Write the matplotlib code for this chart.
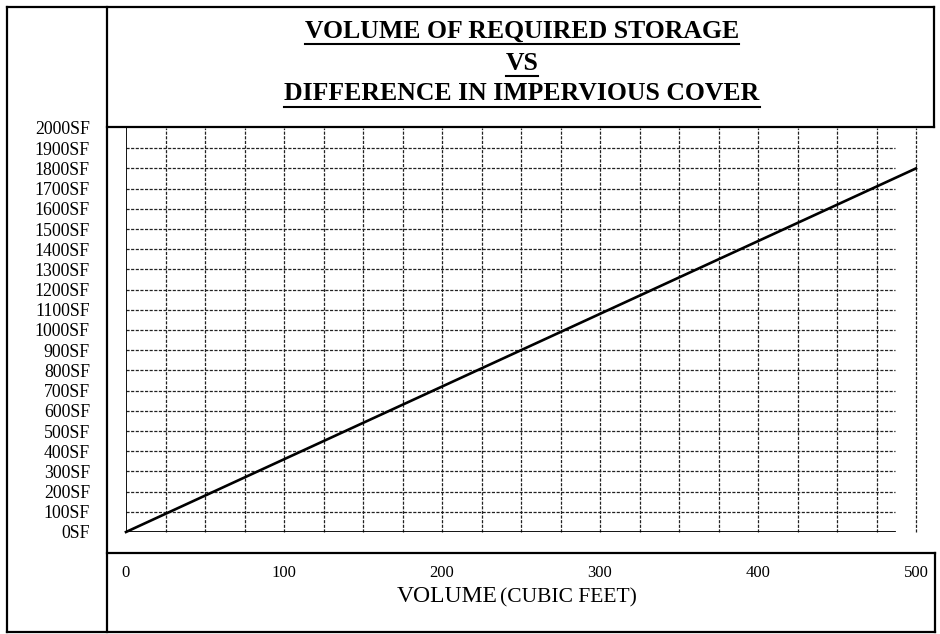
"""Volume of required storage vs difference in impervious cover."""

import matplotlib

matplotlib.use("Agg")

import matplotlib.pyplot as plt
from matplotlib.lines import Line2D

FONT = "Liberation Serif"

TITLE_LINES = ["VOLUME OF REQUIRED STORAGE", "VS", "DIFFERENCE IN IMPERVIOUS COVER"]
volume = [0, 500]
storage = [0, 1800]
x_ticks = [0, 100, 200, 300, 400, 500]
y_ticks = list(range(0, 2001, 100))
x_grid = list(range(25, 501, 25))
y_grid = list(range(100, 2000, 100))

W, H = 940, 634


def fx(px):
    return px / W


def fy(py):
    return 1 - py / H


fig = plt.figure(figsize=(W / 100, H / 100), dpi=100)
fig.patch.set_facecolor("white")

# frame and boxes, in pixel coordinates
segments = [
    ((7, 7), (7, 632)),
    ((7, 7), (934, 7)),
    ((7, 632), (935, 632)),
    ((107, 7), (107, 632)),
    ((107, 127), (934, 127)),
    ((934, 7), (934, 127)),
    ((107, 553), (935, 553)),
    ((935, 553), (935, 632)),
]
for (x0, y0), (x1, y1) in segments:
    fig.add_artist(Line2D([fx(x0), fx(x1)], [fy(y0), fy(y1)], color="black", lw=1.6,
                          transform=fig.transFigure))

ax = fig.add_axes([fx(126), fy(532), fx(916) - fx(126), (532 - 128) / H])
ax.set_xlim(0, 500)
ax.set_ylim(0, 2000)
for s in ax.spines.values():
    s.set_visible(False)
ax.patch.set_alpha(0)

grid_style = dict(color="#222222", lw=0.9, linestyle=(0, (2.5, 1.2)), clip_on=False)
ax.hlines(y_grid, 0, 487, **grid_style)
ax.vlines(x_grid, 0, 2000, **grid_style)
ax.plot([0, 0], [0, 2000], color="black", lw=1.3)
ax.plot([0, 487], [0, 0], color="black", lw=1.3)

ax.plot(volume, storage, color="black", lw=1.9, clip_on=False)

ax.set_xticks(x_ticks)
ax.set_xticklabels([str(v) for v in x_ticks], fontfamily=FONT, fontsize=12)
ax.set_yticks(y_ticks)
ax.set_yticklabels([f"{v}SF" for v in y_ticks], fontfamily=FONT, fontsize=12.8)
ax.tick_params(axis="x", length=0, pad=24)
ax.tick_params(axis="y", length=0, pad=26)

# title, bold and underlined
renderer = fig.canvas.get_renderer()
for line, ypx in zip(TITLE_LINES, [31, 63, 94]):
    t = fig.text(fx(522), fy(ypx), line, ha="center", va="center", fontfamily=FONT,
                 fontweight="bold", fontsize=18.5)
    bb = t.get_window_extent(renderer).transformed(fig.transFigure.inverted())
    fig.add_artist(Line2D([bb.x0, bb.x1], [fy(ypx + 12.5)] * 2, color="black", lw=1.5,
                          transform=fig.transFigure))

# x axis label: large VOLUME followed by smaller unit text
t1 = fig.text(fx(397), fy(602), "VOLUME", ha="left", va="baseline", fontfamily=FONT,
              fontsize=17)
bb = t1.get_window_extent(renderer).transformed(fig.transFigure.inverted())
fig.text(bb.x1 + fx(2), fy(602), "(CUBIC FEET)", ha="left", va="baseline", fontfamily=FONT,
         fontsize=15.5)

fig.savefig("out.png", dpi=100)
